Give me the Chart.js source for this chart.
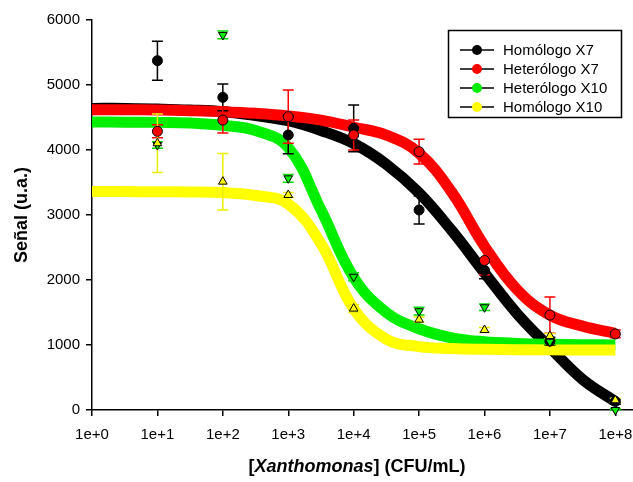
<!DOCTYPE html>
<html>
<head>
<meta charset="utf-8">
<script src="https://cdn.jsdelivr.net/npm/chart.js@4"></script>
<style>
  html, body { margin: 0; padding: 0; background: #fff; }
</style>
</head>
<body>
<canvas id="chart" width="633" height="482"></canvas>
<script>
// series names (legend order)
const seriesNames = ['Homólogo X7', 'Heterólogo X7', 'Heterólogo X10', 'Homólogo X10'];
const seriesColors = ['#000000', '#ff0000', '#00ee00', '#ffff00'];

// x axis: log10 of concentration
const xTickLabels = ['1e+0', '1e+1', '1e+2', '1e+3', '1e+4', '1e+5', '1e+6', '1e+7', '1e+8'];
const yTicks = [0, 1000, 2000, 3000, 4000, 5000, 6000];

// measured points at 1e+1 ... 1e+8
const concLog = [1, 2, 3, 4, 5, 6, 7, 8];
const homX7 = [5374, 4810, 4231, 4333, 3077, 2150, 1060, 130];
const homX7Err = [300, 205, 290, 360, 215, 130, 60, 40];
const hetX7 = [4287, 4460, 4513, 4231, 3974, 2300, 1460, 1170];
const hetX7Err = [100, 200, 410, 230, 190, 220, 280, 60];
const hetX10 = [4077, 5770, 3564, 2050, 1520, 1580, 1050, 0];
const hetX10Err = [50, 60, 60, 60, 60, 50, 40, 20];
const homX10 = [4103, 3513, 3308, 1560, 1390, 1231, 1138, 150];
const homX10Err = [450, 435, 40, 60, 40, 40, 40, 30];

// fitted curves, every half decade
const curveLog = [0, 0.5, 1, 1.5, 2, 2.5, 3, 3.5, 4, 4.5, 5, 5.5, 6, 6.5, 7, 7.5, 8];
const homX7Fit = [4640, 4640, 4630, 4615, 4590, 4530, 4450, 4300, 4100, 3780, 3340, 2760, 2110, 1480, 960, 470, 130];
const hetX7Fit = [4620, 4620, 4615, 4605, 4590, 4565, 4525, 4460, 4350, 4230, 3950, 3350, 2520, 1850, 1460, 1290, 1180];
const hetX10Fit = [4430, 4428, 4425, 4415, 4380, 4300, 4040, 3080, 2040, 1500, 1250, 1110, 1050, 1025, 1012, 1005, 1000];
const homX10Fit = [3360, 3360, 3358, 3355, 3345, 3300, 3170, 2560, 1560, 1090, 975, 945, 933, 928, 925, 923, 922];

const FONT = '"Liberation Sans", Arial, sans-serif';
const pts = (xs, ys) => xs.map((x, i) => ({x: x, y: ys[i]}));

function curve(data, color, order) {
  return {
    data: pts(curveLog, data),
    borderColor: color,
    borderWidth: 11,
    pointRadius: 0,
    tension: 0.4,
    fill: false,
    order: order
  };
}

function markers(data, color, style, rot, order) {
  return {
    data: pts(concLog, data),
    showLine: false,
    pointStyle: style,
    rotation: rot,
    pointRadius: 5,
    pointBackgroundColor: color,
    pointBorderColor: '#000',
    pointBorderWidth: 1,
    clip: false,
    order: order
  };
}

const errSets = [
  [homX7, homX7Err, '#000000'],
  [hetX7, hetX7Err, '#ff0000'],
  [hetX10, hetX10Err, '#00dd00'],
  [homX10, homX10Err, '#eeee00']
];

const extras = {
  id: 'extras',
  afterDatasetDraw(chart, args) {
    if (args.index !== 3) return; // after last curve: error bars
    const ctx = chart.ctx, xs = chart.scales.x, ys = chart.scales.y;
    ctx.save();
    ctx.lineWidth = 1.5;
    errSets.forEach(([vals, errs, color]) => {
      ctx.strokeStyle = color;
      vals.forEach((v, i) => {
        const px = xs.getPixelForValue(concLog[i]);
        const t = ys.getPixelForValue(v + errs[i]);
        const b = ys.getPixelForValue(Math.max(v - errs[i], 0));
        ctx.beginPath();
        ctx.moveTo(px, t); ctx.lineTo(px, b);
        ctx.moveTo(px - 5.5, t); ctx.lineTo(px + 5.5, t);
        ctx.moveTo(px - 5.5, b); ctx.lineTo(px + 5.5, b);
        ctx.stroke();
      });
    });
    ctx.restore();
  },
  afterDraw(chart) {
    const ctx = chart.ctx;
    ctx.save();
    // legend
    ctx.strokeStyle = '#000';
    ctx.lineWidth = 1.5;
    ctx.strokeRect(448.5, 30.5, 173, 87);
    ctx.font = '15px ' + FONT;
    ctx.textBaseline = 'middle';
    ctx.textAlign = 'left';
    seriesNames.forEach((name, i) => {
      const y = 50 + i * 19;
      ctx.beginPath();
      ctx.moveTo(460, y); ctx.lineTo(494, y);
      ctx.strokeStyle = '#000';
      ctx.lineWidth = 1.5;
      ctx.stroke();
      ctx.beginPath();
      ctx.arc(477, y, 5, 0, Math.PI * 2);
      ctx.fillStyle = seriesColors[i];
      ctx.fill();
      ctx.fillStyle = '#000';
      ctx.fillText(name, 503, y + 1);
    });
    // y title
    ctx.save();
    ctx.translate(22, 215);
    ctx.rotate(-Math.PI / 2);
    ctx.font = 'bold 18px ' + FONT;
    ctx.textAlign = 'center';
    ctx.fillText('Señal (u.a.)', 0, 0);
    ctx.restore();
    // x title with italic genus
    const parts = [['[', 'bold'], ['Xanthomonas', 'italic bold'], ['] (CFU/mL)', 'bold']];
    let total = 0;
    parts.forEach(p => { ctx.font = p[1] + ' 18px ' + FONT; total += ctx.measureText(p[0]).width; });
    let x = 357 - total / 2;
    ctx.textAlign = 'left';
    parts.forEach(p => {
      ctx.font = p[1] + ' 18px ' + FONT;
      ctx.fillText(p[0], x, 467);
      x += ctx.measureText(p[0]).width;
    });
    ctx.restore();
  }
};

new Chart(document.getElementById('chart'), {
  type: 'line',
  data: {
    datasets: [
      curve(homX7Fit, '#000000', 8),
      curve(hetX7Fit, '#ff0000', 7),
      curve(hetX10Fit, '#00ee00', 6),
      curve(homX10Fit, '#ffff00', 5),
      markers(homX7, '#000000', 'circle', 0, 4),
      markers(hetX7, '#ff0000', 'circle', 0, 3),
      markers(hetX10, '#00ee00', 'triangle', 180, 2),
      markers(homX10, '#ffff00', 'triangle', 0, 1)
    ]
  },
  options: {
    responsive: false,
    animation: false,
    layout: { autoPadding: false, padding: { top: 20, right: 0, left: 0, bottom: 0 } },
    plugins: { legend: { display: false }, tooltip: { enabled: false } },
    scales: {
      x: {
        type: 'linear',
        min: 0,
        max: 8.27,
        afterFit(s) { s.height = 72; s.paddingLeft = 0; s.paddingRight = 0; },
        afterBuildTicks(s) { s.ticks = s.ticks.filter(t => Number.isInteger(t.value) && t.value <= 8); },
        ticks: {
          stepSize: 1,
          includeBounds: false,
          autoSkip: false,
          maxRotation: 0,
          color: '#000',
          padding: 10,
          font: { size: 15, family: FONT },
          callback: v => xTickLabels[v]
        },
        grid: { drawOnChartArea: false, drawTicks: true, tickLength: 6, color: '#000', lineWidth: 1.5 },
        border: { color: '#000', width: 1.5 }
      },
      y: {
        min: 0,
        max: 6000,
        afterFit(s) { s.width = 92; },
        afterBuildTicks(s) { s.ticks = yTicks.map(v => ({value: v})); },
        ticks: {
          color: '#000',
          padding: 6,
          font: { size: 15, family: FONT },
          callback: v => String(v)
        },
        grid: { drawOnChartArea: false, drawTicks: true, tickLength: 6, color: '#000', lineWidth: 1.5 },
        border: { color: '#000', width: 1.5 }
      }
    }
  },
  plugins: [extras]
});
</script>
</body>
</html>
